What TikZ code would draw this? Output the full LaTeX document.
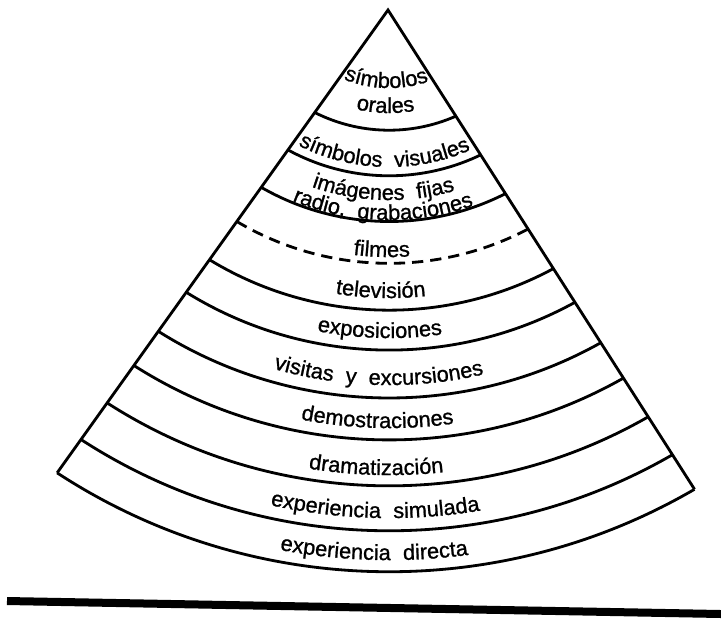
\documentclass[tikz,border=0pt]{standalone}
\usepackage{fontspec}
\newfontfamily\conefont[LetterSpace=4,WordSpace=1.8,FakeBold=1]{Liberation Sans}
\usepackage{tikz}
\usetikzlibrary{decorations.text}

\newcommand{\conehalf}{34.08}
\newcommand{\conelabel}[2]{%
  \path[decorate,decoration={text along path,text align=center,
      text={|\conefont\fontsize{15.5}{18}\selectfont|#2}}]
    (ctr) ++(-150:{#1+45}) arc[start angle=-150,end angle=-30,radius={#1+45}];}

\begin{document}
\begin{tikzpicture}[x=0.025cm,y=0.025cm,line width=2pt,
    fullarc/.style={},
    filmarc/.style={dash pattern=on 8pt off 5pt}]
  \useasboundingbox (0,0) rectangle (721,-620);

  \coordinate (barL) at (7,-601);
  \coordinate (barR) at (721,-614);
  \draw[line width=0.2cm] (barL) -- (barR);

  \begin{scope}[shift={(388,-10)},rotate=-1.48]
    \coordinate (apex) at (0,0);
    \coordinate (ctr) at (0,45);
    \coordinate (lc) at (-90-\conehalf:569);
    \coordinate (rc) at (-90+\conehalf:569);

    \draw[line join=miter] (lc) -- (apex) -- (rc);

    \foreach \r/\lsty in {126/fullarc,172/fullarc,218/fullarc,260/filmarc,
        307/fullarc,347/fullarc,395/fullarc,437/fullarc,483/fullarc,
        528/fullarc,569/fullarc}{
      \pgfmathsetmacro\rs{\r*sin(\conehalf)}
      \pgfmathsetmacro\rc{\r*cos(\conehalf)+45}
      \pgfmathsetmacro\R{veclen(\rs,\rc)}
      \pgfmathsetmacro\th{atan(\rs/\rc)}
      \draw[\lsty] (-90-\conehalf:\r)
        arc[start angle=-90-\th,end angle=-90+\th,radius=\R];
    }

    \conelabel{78}{símbolos}
    \conelabel{103}{orales}
    \conelabel{157}{símbolos visuales}
    \conelabel{190}{imágenes fijas}
    \conelabel{210}{radio, grabaciones}
    \conelabel{247}{filmes}
    \conelabel{288}{televisión}
    \conelabel{328}{exposiciones}
    \conelabel{375}{visitas y excursiones}
    \conelabel{418}{demostraciones}
    \conelabel{465}{dramatización}
    \conelabel{508}{experiencia simulada}
    \conelabel{550}{experiencia directa}
  \end{scope}
\end{tikzpicture}
\end{document}
